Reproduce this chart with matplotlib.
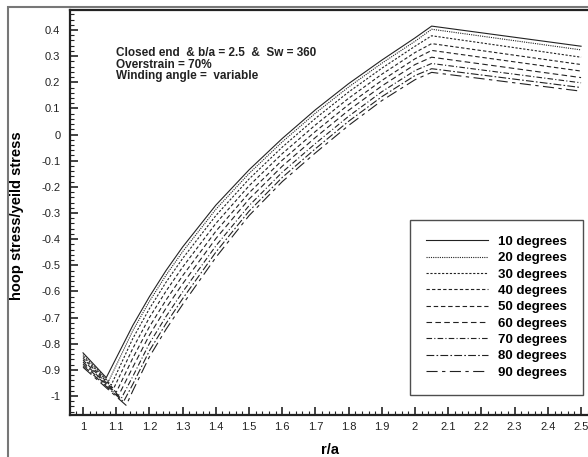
import matplotlib
matplotlib.use("Agg")
import matplotlib.pyplot as plt
from matplotlib.ticker import MultipleLocator
from matplotlib.patches import Rectangle

plt.rcParams['font.family'] = ['Liberation Sans', 'DejaVu Sans']

# winding angles (degrees) for each curve
angles = [10, 20, 30, 40, 50, 60, 70, 80, 90]

# stress at the bore (r/a = 1) and at the reverse-yield knee
start_s = [-0.835, -0.842, -0.849, -0.856, -0.863, -0.870, -0.877, -0.884, -0.890]
knee_r = [1.070, 1.077, 1.085, 1.092, 1.100, 1.107, 1.115, 1.122, 1.130]
knee_s = [-0.930, -0.944, -0.958, -0.972, -0.986, -0.998, -1.010, -1.022, -1.036]

# radius points after the knee, up to the outer wall b/a = 2.5
r_pts = [1.15, 1.2, 1.25, 1.3, 1.4, 1.5, 1.6, 1.7, 1.8, 1.9, 2.0, 2.05, 2.5]

s10 = [-0.730, -0.620, -0.520, -0.430, -0.270, -0.135, -0.015, 0.095, 0.195, 0.285, 0.370, 0.415, 0.338]
s20 = [-0.750, -0.638, -0.538, -0.448, -0.286, -0.149, -0.028, 0.082, 0.182, 0.273, 0.357, 0.403, 0.324]
s30 = [-0.780, -0.666, -0.565, -0.474, -0.310, -0.170, -0.048, 0.062, 0.163, 0.254, 0.338, 0.378, 0.296]
s40 = [-0.818, -0.700, -0.599, -0.507, -0.340, -0.196, -0.073, 0.037, 0.139, 0.231, 0.314, 0.348, 0.268]
s50 = [-0.855, -0.735, -0.633, -0.540, -0.370, -0.223, -0.098, 0.012, 0.115, 0.207, 0.290, 0.322, 0.243]
s60 = [-0.890, -0.767, -0.664, -0.571, -0.398, -0.247, -0.121, -0.011, 0.093, 0.186, 0.268, 0.296, 0.218]
s70 = [-0.925, -0.799, -0.696, -0.602, -0.426, -0.272, -0.144, -0.034, 0.070, 0.164, 0.245, 0.272, 0.198]
s80 = [-0.955, -0.827, -0.723, -0.628, -0.450, -0.293, -0.164, -0.054, 0.051, 0.145, 0.226, 0.252, 0.180]
s90 = [-0.980, -0.850, -0.745, -0.650, -0.470, -0.310, -0.180, -0.070, 0.035, 0.130, 0.210, 0.238, 0.166]
curves = [s10, s20, s30, s40, s50, s60, s70, s80, s90]

dashes = [
    (None, None),
    (1, 1),
    (2, 1.5),
    (3, 2),
    (4, 2.5),
    (5, 3),
    (5, 2, 1, 2),
    (7, 2, 1.5, 2),
    (10, 4, 3, 4),
]


def tick_fmt(v, pos):
    if abs(v - round(v)) < 1e-9:
        return f'{int(round(v))}'
    return f'{v:.1f}'


W, H = 588, 457
fig = plt.figure(figsize=(W / 100, H / 100), dpi=100)

# outer frame of the plot page
fig.patches.append(Rectangle((7.5 / W, -0.1), 1.2, 1 - 7.5 / H + 0.1,
                             transform=fig.transFigure, fill=False,
                             edgecolor='#777777', lw=1.5))

ax = fig.add_axes([70 / W, (H - 415) / H, 530 / W, 405 / H])

for i, a in enumerate(angles):
    r = [1.0, knee_r[i]] + r_pts
    s = [start_s[i], knee_s[i]] + curves[i]
    line, = ax.plot(r, s, color='#222222', lw=0.8, label=f'{a} degrees')
    if dashes[i][0] is not None:
        line.set_dashes(dashes[i])

ax.set_xlim(0.9608, 2.557)
ax.set_ylim(-1.0728, 0.4766)
ax.xaxis.set_major_locator(MultipleLocator(0.1))
ax.xaxis.set_minor_locator(MultipleLocator(0.02))
ax.yaxis.set_major_locator(MultipleLocator(0.1))
ax.yaxis.set_minor_locator(MultipleLocator(0.02))
ax.xaxis.set_major_formatter(plt.FuncFormatter(tick_fmt))
ax.yaxis.set_major_formatter(plt.FuncFormatter(tick_fmt))

ax.tick_params(which='both', direction='in', top=False, right=False,
               colors='#222222', labelsize=8)
ax.tick_params(which='major', length=6, width=1.2)
ax.tick_params(which='minor', length=3, width=0.8)
ax.tick_params(axis='y', pad=7)
ax.tick_params(axis='x', pad=5)
for sp in ax.spines.values():
    sp.set_linewidth(1.6)
    sp.set_color('#222222')

fig.text(17 / W, 1 - 216 / H, 'hoop stress/yeild stress', rotation=90,
         ha='center', va='center', fontsize=10.5, fontweight='bold')
fig.text(330 / W, 1 - 450 / H, 'r/a', ha='center', va='center',
         fontsize=10.5, fontweight='bold')

fig.text(116 / W, 1 - 47 / H,
         'Closed end  & b/a = 2.5  &  Sw = 360\nOverstrain = 70%\nWinding angle =  variable',
         ha='left', va='top', fontsize=8.5, fontweight='bold',
         color='#222222', linespacing=0.95)

leg = ax.legend(loc='upper left', bbox_to_anchor=(410 / W, 1 - 220 / H),
                bbox_transform=fig.transFigure, frameon=True, fancybox=False,
                prop={'weight': 'bold', 'size': 9.5}, handlelength=4.7,
                handletextpad=0.75, labelspacing=0.31, borderaxespad=0,
                borderpad=1.2)
leg.get_frame().set_edgecolor('#222222')
leg.get_frame().set_linewidth(1.0)

fig.savefig('out.png', dpi=100)
